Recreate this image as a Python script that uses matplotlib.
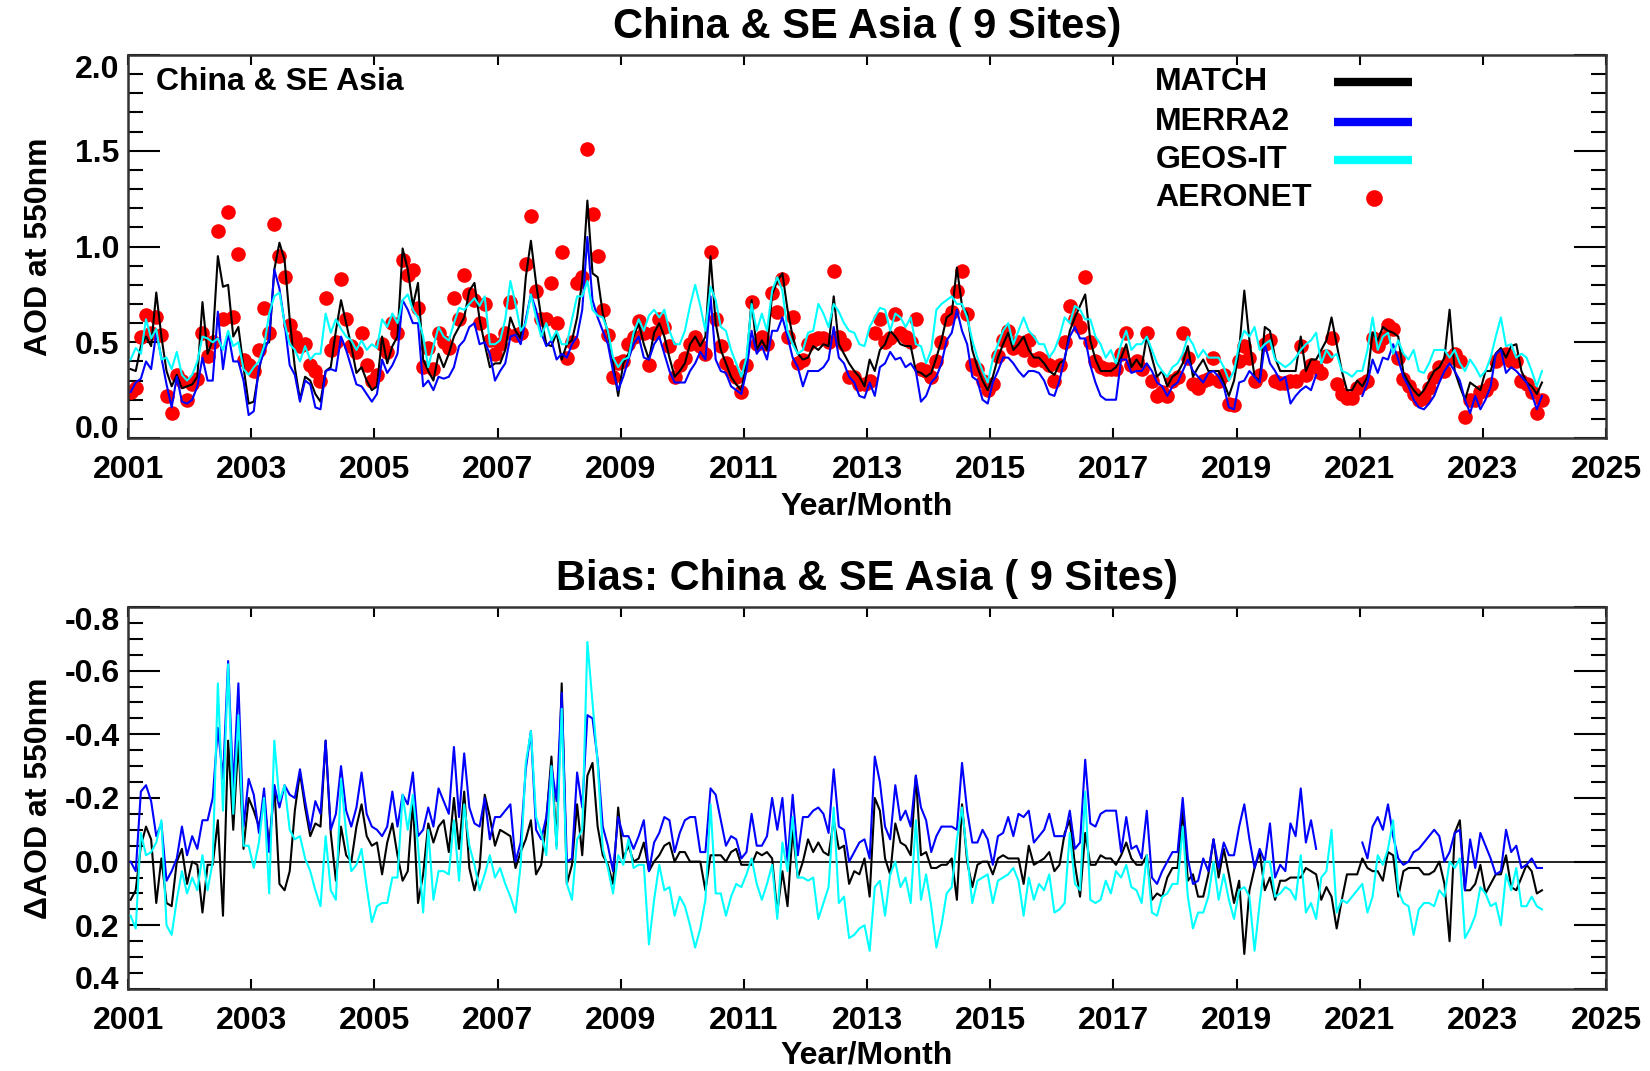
import numpy as np
import matplotlib
matplotlib.use("Agg")
import matplotlib.pyplot as plt
from matplotlib.ticker import MultipleLocator

plt.rcParams['font.family'] = ['Liberation Sans', 'DejaVu Sans']
plt.rcParams['font.weight'] = 'bold'

# monthly means, Jan 2001 .. Dec 2023 (one row per year)
match = [
    0.36, 0.35, 0.48, 0.53, 0.48, 0.76, 0.53, 0.35, 0.27, 0.33, 0.26, 0.27,
    0.28, 0.32, 0.71, 0.44, 0.51, 0.95, 0.79, 0.80, 0.53, 0.58, 0.37, 0.18,
    0.19, 0.35, 0.49, 0.50, 0.88, 1.02, 0.93, 0.62, 0.37, 0.20, 0.32, 0.30,
    0.23, 0.19, 0.35, 0.37, 0.56, 0.72, 0.60, 0.48, 0.34, 0.37, 0.30, 0.25,
    0.27, 0.53, 0.39, 0.48, 0.53, 0.99, 0.88, 0.69, 0.81, 0.41, 0.35, 0.30,
    0.44, 0.37, 0.44, 0.53, 0.58, 0.63, 0.77, 0.81, 0.62, 0.49, 0.37, 0.39,
    0.39, 0.46, 0.63, 0.56, 0.52, 0.84, 1.03, 0.81, 0.63, 0.49, 0.48, 0.55,
    0.41, 0.49, 0.51, 0.63, 0.82, 1.24, 0.86, 0.84, 0.65, 0.55, 0.39, 0.22,
    0.39, 0.44, 0.53, 0.60, 0.49, 0.41, 0.55, 0.60, 0.53, 0.42, 0.32, 0.35,
    0.39, 0.49, 0.53, 0.48, 0.53, 0.95, 0.60, 0.46, 0.39, 0.32, 0.28, 0.25,
    0.39, 0.72, 0.46, 0.51, 0.46, 0.75, 0.82, 0.86, 0.67, 0.53, 0.44, 0.41,
    0.42, 0.48, 0.46, 0.49, 0.48, 0.74, 0.49, 0.44, 0.39, 0.35, 0.32, 0.27,
    0.41, 0.35, 0.46, 0.49, 0.56, 0.53, 0.49, 0.48, 0.48, 0.35, 0.34, 0.32,
    0.34, 0.42, 0.51, 0.63, 0.65, 0.89, 0.69, 0.65, 0.46, 0.37, 0.30, 0.25,
    0.32, 0.42, 0.49, 0.55, 0.46, 0.49, 0.53, 0.46, 0.42, 0.42, 0.39, 0.35,
    0.33, 0.39, 0.41, 0.56, 0.63, 0.69, 0.75, 0.51, 0.41, 0.35, 0.35, 0.35,
    0.37, 0.42, 0.49, 0.37, 0.41, 0.37, 0.53, 0.42, 0.32, 0.35, 0.27, 0.32,
    0.34, 0.39, 0.48, 0.32, 0.37, 0.41, 0.35, 0.35, 0.35, 0.29, 0.22, 0.30,
    0.46, 0.77, 0.51, 0.32, 0.30, 0.58, 0.56, 0.42, 0.35, 0.35, 0.35, 0.35,
    0.53, 0.35, 0.41, 0.41, 0.46, 0.51, 0.63, 0.49, 0.35, 0.25, 0.25, 0.30,
    0.27, 0.32, 0.55, 0.51, 0.58, 0.56, 0.55, 0.53, 0.34, 0.29, 0.25, 0.22,
    0.25, 0.30, 0.35, 0.37, 0.42, 0.67, 0.35, 0.27, 0.20, 0.29, 0.27, 0.25,
    0.35, 0.35, 0.44, 0.47, 0.42, 0.48, 0.49, 0.35, 0.29, 0.27, 0.23, 0.29,
]

nan = np.nan
merra2 = [
    0.24, 0.29, 0.31, 0.40, 0.36, 0.55, 0.42, 0.28, 0.16, 0.32, 0.19, 0.18,
    0.20, 0.27, 0.42, 0.30, 0.30, 0.66, 0.36, 0.55, 0.40, 0.40, 0.30, 0.12,
    0.14, 0.37, 0.45, 0.52, 0.88, 0.78, 0.60, 0.38, 0.33, 0.19, 0.30, 0.28,
    0.16, 0.15, 0.35, 0.36, 0.35, 0.53, 0.46, 0.37, 0.28, 0.27, 0.23, 0.19,
    0.23, 0.41, 0.34, 0.38, 0.44, 0.72, 0.67, 0.60, 0.60, 0.27, 0.30, 0.25,
    0.32, 0.31, 0.32, 0.37, 0.48, 0.51, 0.58, 0.60, 0.49, 0.50, 0.44, 0.30,
    0.35, 0.39, 0.53, 0.54, 0.49, 0.62, 0.75, 0.67, 0.55, 0.48, 0.51, 0.41,
    0.44, 0.42, 0.49, 0.53, 0.67, 1.05, 0.72, 0.63, 0.56, 0.49, 0.35, 0.25,
    0.32, 0.41, 0.49, 0.53, 0.42, 0.41, 0.49, 0.53, 0.44, 0.35, 0.29, 0.29,
    0.29, 0.35, 0.39, 0.45, 0.41, 0.74, 0.41, 0.35, 0.34, 0.27, 0.25, 0.23,
    0.35, 0.56, 0.44, 0.48, 0.41, 0.56, 0.56, 0.63, 0.53, 0.42, 0.37, 0.27,
    0.35, 0.35, 0.35, 0.37, 0.41, 0.58, 0.42, 0.39, 0.32, 0.29, 0.22, 0.21,
    0.29, 0.22, 0.37, 0.39, 0.45, 0.41, 0.42, 0.37, 0.39, 0.35, 0.19, 0.22,
    0.29, 0.32, 0.39, 0.51, 0.55, 0.67, 0.56, 0.49, 0.32, 0.30, 0.20, 0.18,
    0.29, 0.35, 0.42, 0.42, 0.39, 0.35, 0.32, 0.35, 0.35, 0.34, 0.30, 0.23,
    0.22, 0.30, 0.42, 0.53, 0.58, 0.52, 0.52, 0.38, 0.29, 0.22, 0.20, 0.20,
    0.20, 0.41, 0.41, 0.34, 0.35, 0.35, 0.39, 0.35, 0.29, 0.27, 0.22, 0.27,
    0.29, 0.35, 0.41, 0.35, 0.32, 0.29, 0.34, 0.35, 0.32, 0.27, 0.16, 0.15,
    0.29, 0.30, 0.35, 0.32, 0.29, 0.49, 0.39, 0.35, 0.30, 0.32, 0.18, 0.22,
    0.25, 0.27, 0.25, 0.33, nan, nan, nan, nan, nan, nan, nan, nan,
    0.22, 0.29, 0.41, 0.34, 0.42, 0.41, 0.49, 0.41, 0.32, 0.27, 0.20, 0.16,
    0.15, 0.18, 0.22, 0.29, 0.35, 0.39, 0.35, 0.30, 0.20, 0.13, 0.22, 0.15,
    0.20, 0.27, 0.44, 0.46, 0.34, 0.37, 0.35, 0.32, 0.29, 0.23, 0.15, 0.22,
]

geos_it = [
    0.41, 0.47, 0.44, 0.62, 0.52, 0.57, 0.41, 0.42, 0.36, 0.45, 0.33, 0.30,
    0.33, 0.40, 0.53, 0.52, 0.50, 0.52, 0.46, 0.56, 0.48, 0.50, 0.36, 0.33,
    0.37, 0.40, 0.48, 0.65, 0.74, 0.76, 0.60, 0.49, 0.46, 0.40, 0.48, 0.41,
    0.44, 0.44, 0.65, 0.55, 0.62, 0.57, 0.53, 0.51, 0.46, 0.51, 0.46, 0.49,
    0.47, 0.62, 0.58, 0.65, 0.60, 0.72, 0.75, 0.67, 0.63, 0.53, 0.37, 0.48,
    0.58, 0.53, 0.51, 0.60, 0.68, 0.67, 0.70, 0.73, 0.69, 0.74, 0.49, 0.49,
    0.51, 0.62, 0.82, 0.70, 0.56, 0.60, 0.75, 0.63, 0.53, 0.60, 0.51, 0.56,
    0.49, 0.49, 0.62, 0.74, 0.74, 0.82, 0.67, 0.64, 0.63, 0.56, 0.42, 0.37,
    0.41, 0.42, 0.55, 0.62, 0.56, 0.64, 0.67, 0.63, 0.67, 0.56, 0.49, 0.49,
    0.56, 0.69, 0.80, 0.69, 0.56, 0.79, 0.72, 0.58, 0.56, 0.46, 0.39, 0.32,
    0.42, 0.70, 0.56, 0.65, 0.56, 0.77, 0.84, 0.77, 0.56, 0.49, 0.44, 0.46,
    0.55, 0.56, 0.70, 0.65, 0.58, 0.70, 0.66, 0.60, 0.56, 0.55, 0.49, 0.48,
    0.58, 0.63, 0.68, 0.67, 0.56, 0.65, 0.63, 0.58, 0.63, 0.49, 0.48, 0.39,
    0.46, 0.67, 0.70, 0.72, 0.74, 0.70, 0.70, 0.63, 0.51, 0.42, 0.35, 0.29,
    0.41, 0.49, 0.56, 0.60, 0.49, 0.56, 0.63, 0.56, 0.53, 0.49, 0.49, 0.42,
    0.46, 0.53, 0.63, 0.60, 0.69, 0.67, 0.62, 0.62, 0.53, 0.49, 0.42, 0.46,
    0.39, 0.49, 0.56, 0.46, 0.49, 0.49, 0.53, 0.46, 0.39, 0.35, 0.32, 0.37,
    0.39, 0.44, 0.53, 0.49, 0.42, 0.46, 0.42, 0.42, 0.42, 0.37, 0.30, 0.35,
    0.49, 0.56, 0.53, 0.58, 0.46, 0.49, 0.51, 0.41, 0.39, 0.37, 0.39, 0.42,
    0.46, 0.49, 0.51, 0.55, 0.39, 0.46, 0.42, 0.44, 0.35, 0.34, 0.32, 0.35,
    0.35, 0.46, 0.63, 0.46, 0.53, 0.55, 0.44, 0.51, 0.44, 0.41, 0.46, 0.35,
    0.34, 0.39, 0.46, 0.46, 0.46, 0.42, 0.46, 0.39, 0.35, 0.41, 0.37, 0.32,
    0.35, 0.42, 0.53, 0.63, 0.48, 0.49, 0.42, 0.44, 0.42, 0.35, 0.27, 0.35,
]

aeronet = [
    0.24, 0.26, 0.53, 0.64, 0.55, 0.63, 0.54, 0.22, 0.13, 0.33, 0.30, 0.20,
    0.28, 0.31, 0.55, 0.43, 0.50, 1.08, 0.62, 1.18, 0.63, 0.96, 0.41, 0.38,
    0.35, 0.46, 0.68, 0.55, 1.12, 0.95, 0.84, 0.59, 0.53, 0.48, 0.49, 0.38,
    0.35, 0.30, 0.73, 0.46, 0.50, 0.83, 0.62, 0.48, 0.45, 0.55, 0.38, 0.30,
    0.33, 0.49, 0.45, 0.60, 0.55, 0.93, 0.85, 0.88, 0.68, 0.37, 0.47, 0.36,
    0.55, 0.50, 0.47, 0.73, 0.62, 0.85, 0.75, 0.72, 0.60, 0.70, 0.51, 0.44,
    0.49, 0.55, 0.71, 0.54, 0.55, 0.91, 1.16, 0.77, 0.62, 0.62, 0.81, 0.60,
    0.97, 0.42, 0.50, 0.81, 0.84, 1.51, 1.17, 0.95, 0.67, 0.54, 0.32, 0.39,
    0.40, 0.49, 0.53, 0.61, 0.55, 0.38, 0.55, 0.62, 0.58, 0.48, 0.32, 0.38,
    0.42, 0.49, 0.53, 0.48, 0.44, 0.97, 0.62, 0.48, 0.39, 0.35, 0.32, 0.24,
    0.38, 0.71, 0.49, 0.53, 0.49, 0.76, 0.66, 0.83, 0.53, 0.63, 0.39, 0.41,
    0.49, 0.51, 0.52, 0.52, 0.50, 0.87, 0.53, 0.49, 0.32, 0.32, 0.28, 0.28,
    0.30, 0.55, 0.62, 0.50, 0.52, 0.65, 0.55, 0.53, 0.50, 0.62, 0.36, 0.35,
    0.32, 0.40, 0.50, 0.62, 0.66, 0.77, 0.87, 0.65, 0.38, 0.36, 0.30, 0.25,
    0.28, 0.43, 0.51, 0.56, 0.47, 0.50, 0.46, 0.51, 0.41, 0.42, 0.40, 0.38,
    0.30, 0.38, 0.50, 0.69, 0.62, 0.58, 0.84, 0.50, 0.40, 0.37, 0.36, 0.36,
    0.36, 0.44, 0.55, 0.38, 0.40, 0.36, 0.55, 0.30, 0.22, 0.24, 0.22, 0.30,
    0.32, 0.55, 0.42, 0.28, 0.26, 0.30, 0.31, 0.42, 0.30, 0.33, 0.18, 0.17,
    0.40, 0.48, 0.42, 0.30, 0.33, 0.49, 0.51, 0.30, 0.29, 0.29, 0.30, 0.30,
    0.48, 0.33, 0.38, 0.37, 0.34, 0.43, 0.52, 0.28, 0.23, 0.21, 0.21, 0.26,
    0.28, 0.30, 0.52, 0.48, 0.52, 0.59, 0.57, 0.42, 0.31, 0.27, 0.23, 0.20,
    0.21, 0.26, 0.32, 0.37, 0.35, 0.42, 0.44, 0.40, 0.11, 0.20, 0.20, 0.24,
    0.25, 0.28, 0.40, 0.43, 0.44, 0.40, 0.40, 0.30, 0.28, 0.24, 0.13, 0.20,
]

region = "China & SE Asia"
n_sites = 9
year_ticks = list(range(2001, 2026, 2))

match = np.array(match)
merra2 = np.array(merra2)
geos_it = np.array(geos_it)
aeronet = np.array(aeronet)
# mid-month decimal years
t = 2001 + (np.arange(len(match)) + 0.5) / 12.0

# bias = model - AERONET
bias_match = match - aeronet
bias_merra2 = merra2 - aeronet
bias_geos = geos_it - aeronet

fig = plt.figure(figsize=(16.5, 10.71), dpi=100)
ax1 = fig.add_axes([0.0776, 0.5910, 0.8958, 0.3576])
ax2 = fig.add_axes([0.0776, 0.0766, 0.8958, 0.3567])

FS = 23


def style_axes(ax, major, minor):
    ax.set_xlim(2001, 2025)
    ax.set_xticks(year_ticks)
    ax.set_xticklabels([str(y) for y in year_ticks])
    ax.yaxis.set_major_locator(MultipleLocator(major))
    ax.yaxis.set_minor_locator(MultipleLocator(minor))
    ax.tick_params(axis='x', which='major', direction='in', length=7, width=1.5,
                   top=True, labelsize=FS, pad=12)
    ax.tick_params(axis='y', which='major', direction='in', length=23, width=1.5,
                   right=True, labelsize=FS, pad=6)
    ax.tick_params(axis='y', which='minor', direction='in', length=11, width=1.5,
                   right=True)
    for s in ax.spines.values():
        s.set_linewidth(1.8)
        s.set_color('#333333')
    for lab in ax.get_xticklabels() + ax.get_yticklabels():
        lab.set_fontweight('bold')


# ---- top panel: AOD time series
ax1.plot(t, aeronet, 'o', color='red', ms=10.5, mec='none', zorder=2)
ax1.plot(t, match, color='black', lw=1.5, zorder=3)
ax1.plot(t, merra2, color='blue', lw=1.5, zorder=3)
ax1.plot(t, geos_it, color='cyan', lw=1.5, zorder=3)
ax1.set_ylim(0, 2.0)
style_axes(ax1, 0.5, 0.1)
ax1.set_yticks([0, 0.5, 1.0, 1.5, 2.0])
ax1.set_yticklabels(['0.0', '0.5', '1.0', '1.5', '2.0'])

ax1.text(0.019, 0.93, region, transform=ax1.transAxes, fontsize=FS,
         fontweight='bold', va='center', ha='left')

# legend drawn by hand: text on the left, key on the right
leg_rows = [("MATCH", 'black'), ("MERRA2", 'blue'), ("GEOS-IT", 'cyan'), ("AERONET", 'red')]
leg_y = [0.9295, 0.826, 0.726, 0.627]
for (name, col), yy in zip(leg_rows, leg_y):
    ax1.text(0.695, yy, name, transform=ax1.transAxes, fontsize=FS,
             fontweight='bold', va='center', ha='left')
    if name == "AERONET":
        ax1.plot([0.843], [yy], 'o', color=col, ms=12, mec='none',
                 transform=ax1.transAxes, clip_on=False)
    else:
        ax1.plot([0.816, 0.869], [yy, yy], color=col, lw=6,
                 transform=ax1.transAxes, solid_capstyle='butt')

lab = ax1.set_xlabel("Year/Month", fontsize=FS, fontweight='bold')
ax1.xaxis.set_label_coords(0.5, -0.1775)
lab.set_va('center')
lab = ax1.set_ylabel("AOD at 550nm", fontsize=FS, fontweight='bold')
ax1.yaxis.set_label_coords(-0.0600, 0.5)
lab.set_va('center')

# ---- bottom panel: bias
ax2.axhline(0, color='black', lw=1.2, zorder=1)
ax2.plot(t, bias_match, color='black', lw=1.5, zorder=3)
ax2.plot(t, bias_merra2, color='blue', lw=1.5, zorder=3)
ax2.plot(t, bias_geos, color='cyan', lw=1.5, zorder=3)
ax2.set_ylim(0.4, -0.8)
style_axes(ax2, 0.2, 0.05)
bias_ticks = [-0.8, -0.6, -0.4, -0.2, 0.0, 0.2, 0.4]
ax2.set_yticks(bias_ticks)
ax2.set_yticklabels(['%.1f' % v for v in bias_ticks])

lab = ax2.set_xlabel("Year/Month", fontsize=FS, fontweight='bold')
ax2.xaxis.set_label_coords(0.5, -0.174)
lab.set_va('center')
lab = ax2.set_ylabel("\u0394AOD at 550nm", fontsize=FS, fontweight='bold')
ax2.yaxis.set_label_coords(-0.0600, 0.5)
lab.set_va('center')

# keep the end labels inside the frame like the original
for ax in (ax1, ax2):
    ticks = ax.yaxis.get_major_ticks()
    if ax is ax1:
        ticks[0].label1.set_va('baseline')
        ticks[-1].label1.set_va('top')
    else:
        ticks[0].label1.set_va('top')
        ticks[-1].label1.set_va('baseline')

fig.text(0.5255, 1 - 27 / 1071, "%s ( %d Sites)" % (region, n_sites),
         ha='center', va='center', fontsize=30, fontweight='bold')
fig.text(0.5255, 1 - 579 / 1071, "Bias: %s ( %d Sites)" % (region, n_sites),
         ha='center', va='center', fontsize=30, fontweight='bold')

fig.savefig("out.png", dpi=100)
